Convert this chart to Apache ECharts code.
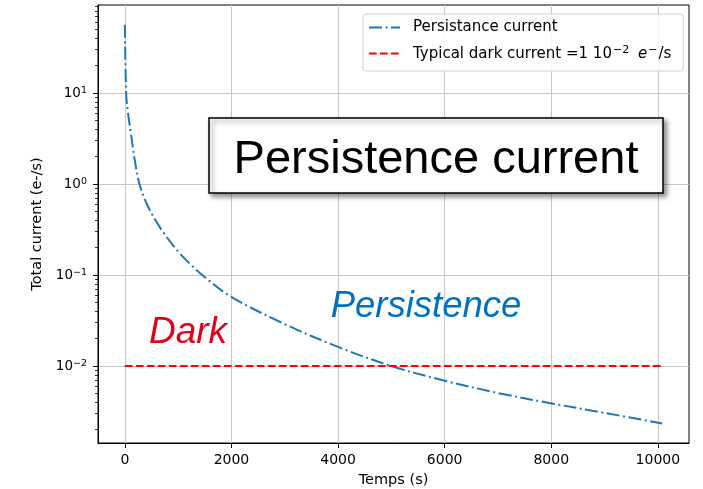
<!DOCTYPE html>
<html>
<head>
<meta charset="utf-8">
<script src="https://cdn.jsdelivr.net/npm/echarts@6/dist/echarts.min.js"></script>
<style>
  html, body { margin: 0; padding: 0; background: #ffffff; }
  #chart { width: 703px; height: 489px; }
</style>
</head>
<body>
<div id="chart"></div>
<script>
// Persistence current decay after illumination (e-/s) versus time (s)
const timeSeconds = [0, 24, 56, 118, 179, 274, 404, 572, 777, 1007, 1225, 1472, 1989,
  2982, 3976, 4995, 5946, 7000, 7935, 9000, 10080];
const persistenceCurrent = [56, 10, 6.2, 3.45, 1.93, 1.0, 0.618, 0.402, 0.265, 0.179, 0.132, 0.0975, 0.0578,
  0.0292, 0.0164, 0.0100, 0.00702, 0.00505, 0.00395, 0.00305, 0.00234];

// Typical dark current level
const darkTime = [0, 10080];
const darkCurrent = [0.01, 0.01];

// Axis ticks
const xTicks = [0, 2000, 4000, 6000, 8000, 10000];
const xTickLabels = ['0', '2000', '4000', '6000', '8000', '10000'];
const yTicks = [0.01, 0.1, 1, 10];
const yTickExponents = ['\u22122', '\u22121', '0', '1'];
const yMinorTicks = [0.002, 0.003, 0.004, 0.005, 0.006, 0.007, 0.008, 0.009,
  0.02, 0.03, 0.04, 0.05, 0.06, 0.07, 0.08, 0.09,
  0.2, 0.3, 0.4, 0.5, 0.6, 0.7, 0.8, 0.9,
  2, 3, 4, 5, 6, 7, 8, 9,
  20, 30, 40, 50, 60, 70, 80, 90];

const seriesNames = ['Persistance current', 'Typical dark current'];

const FONT = 'DejaVu Sans';

const chart = echarts.init(document.getElementById('chart'), null, { renderer: 'canvas' });

const gridBox = { left: 98, top: 5, right: 14, bottom: 46 };
const xRange = { min: -504, max: 10584 };
const yRange = { min: 0.001425, max: 92.6 };

const option = {
  animation: false,
  backgroundColor: '#ffffff',
  grid: {
    left: gridBox.left, top: gridBox.top, right: gridBox.right, bottom: gridBox.bottom,
    outerBoundsMode: 'none',
    containLabel: false,
    show: true, borderColor: '#000000', borderWidth: 1, backgroundColor: 'transparent'
  },
  xAxis: {
    type: 'value',
    min: xRange.min, max: xRange.max,
    name: 'Temps (s)',
    nameLocation: 'middle',
    nameGap: 30,
    nameTextStyle: { fontFamily: FONT, fontSize: 14.5, color: '#000' },
    axisLine: { show: true, onZero: false, lineStyle: { color: '#000', width: 1 } },
    axisTick: { show: true, inside: false, length: 5, customValues: xTicks, lineStyle: { color: '#000', width: 1 } },
    axisLabel: {
      customValues: xTicks,
      margin: 10,
      fontFamily: FONT, fontSize: 14, color: '#000',
      formatter: v => xTickLabels[xTicks.indexOf(v)] ?? String(v)
    },
    splitLine: { show: true, lineStyle: { color: '#c8c8c8', width: 1 } }
  },
  yAxis: [
    {
      type: 'log',
      logBase: 10,
      min: yRange.min, max: yRange.max,
      position: 'left',
      name: 'Total current (e-/s)',
      nameLocation: 'middle',
      nameGap: 53,
      nameRotate: 90,
      nameTextStyle: { fontFamily: FONT, fontSize: 14.5, color: '#000' },
      axisLine: { show: true, onZero: false, lineStyle: { color: '#000', width: 1 } },
      axisTick: { show: true, inside: false, length: 5, customValues: yTicks, lineStyle: { color: '#000', width: 1 } },
      axisLabel: {
        customValues: yTicks,
        margin: 11,
        fontFamily: FONT, fontSize: 13.5, color: '#000',
        formatter: v => {
          const idx = yTicks.findIndex(t => Math.abs(Math.log10(t) - Math.log10(v)) < 1e-6);
          return '{b|10}{s|' + (idx >= 0 ? yTickExponents[idx] : '') + '}';
        },
        rich: {
          b: { fontFamily: FONT, fontSize: 13.5, color: '#000', lineHeight: 15, verticalAlign: 'bottom' },
          s: { fontFamily: FONT, fontSize: 9.5, color: '#000', lineHeight: 9, verticalAlign: 'top' }
        }
      },
      splitLine: { show: true, lineStyle: { color: '#c8c8c8', width: 1 } }
    },
    {
      type: 'log',
      logBase: 10,
      min: yRange.min, max: yRange.max,
      position: 'left',
      axisLine: { show: false, onZero: false },
      axisTick: { show: true, inside: false, length: 3, customValues: yMinorTicks, lineStyle: { color: '#000', width: 0.8 } },
      axisLabel: { show: false },
      splitLine: { show: false }
    }
  ],
  legend: {
    orient: 'vertical',
    left: 363,
    top: 14,
    padding: [6, 12, 9, 5],
    itemWidth: 31,
    itemHeight: 14,
    itemGap: 10,
    borderColor: '#d0d0d0',
    borderWidth: 1,
    borderRadius: 3,
    backgroundColor: 'rgba(255,255,255,0.85)',
    itemStyle: { opacity: 0 },
    data: seriesNames,
    textStyle: { fontFamily: FONT, fontSize: 15, color: '#000', padding: [0, 0, 0, 8],
      rich: {
        t: { fontFamily: FONT, fontSize: 15, color: '#000', lineHeight: 17, verticalAlign: 'bottom' },
        i: { fontFamily: FONT, fontStyle: 'italic', fontSize: 15, color: '#000', lineHeight: 17, verticalAlign: 'bottom', padding: [0, 0, 0, 3] },
        s: { fontFamily: FONT, fontSize: 11, color: '#000', lineHeight: 10, verticalAlign: 'top', padding: [0, 1, 0, 1] }
      }
    },
    formatter: name => {
      if (name === seriesNames[1]) {
        return '{t|Typical dark current =1 10}{s|\u22122}{t| }{i|e}{s|\u2212}{t|/s}';
      }
      return name;
    }
  },
  series: [
    {
      name: seriesNames[0],
      type: 'line',
      xAxisIndex: 0,
      yAxisIndex: 0,
      data: timeSeconds.map((t, i) => [t, persistenceCurrent[i]]),
      symbol: 'none',
      showSymbol: false,
      smooth: 0.35,
      itemStyle: { color: '#1f77b4' },
      lineStyle: { color: '#1f77b4', width: 2, type: [13, 3.5, 2, 3.5] },
      z: 3
    },
    {
      name: seriesNames[1],
      type: 'line',
      xAxisIndex: 0,
      yAxisIndex: 0,
      data: darkTime.map((t, i) => [t, darkCurrent[i]]),
      symbol: 'none',
      showSymbol: false,
      itemStyle: { color: '#ff0000' },
      lineStyle: { color: '#ff0000', width: 2, type: [7.7, 3.3] },
      z: 3
    }
  ],
  graphic: [
    {
      type: 'rect',
      z: 100,
      shape: { x: 209, y: 118, width: 454, height: 75 },
      style: {
        fill: '#ffffff', stroke: '#000000', lineWidth: 1.5,
        shadowBlur: 5, shadowOffsetX: 3, shadowOffsetY: 3, shadowColor: 'rgba(0,0,0,0.45)'
      }
    },
    {
      type: 'text',
      z: 101,
      x: 436, y: 160,
      style: {
        text: 'Persistence current',
        font: '47px "Liberation Sans", Arial, sans-serif',
        fill: '#000000',
        align: 'center',
        verticalAlign: 'middle'
      }
    },
    {
      type: 'text',
      z: 101,
      x: 188, y: 333,
      style: {
        text: 'Dark',
        font: 'italic 37px "Liberation Sans", Arial, sans-serif',
        fill: '#e2001a',
        align: 'center',
        verticalAlign: 'middle'
      }
    },
    {
      type: 'text',
      z: 101,
      x: 426, y: 307,
      style: {
        text: 'Persistence',
        font: 'italic 36.5px "Liberation Sans", Arial, sans-serif',
        fill: '#0070c0',
        align: 'center',
        verticalAlign: 'middle'
      }
    }
  ]
};

chart.setOption(option);
</script>
</body>
</html>
